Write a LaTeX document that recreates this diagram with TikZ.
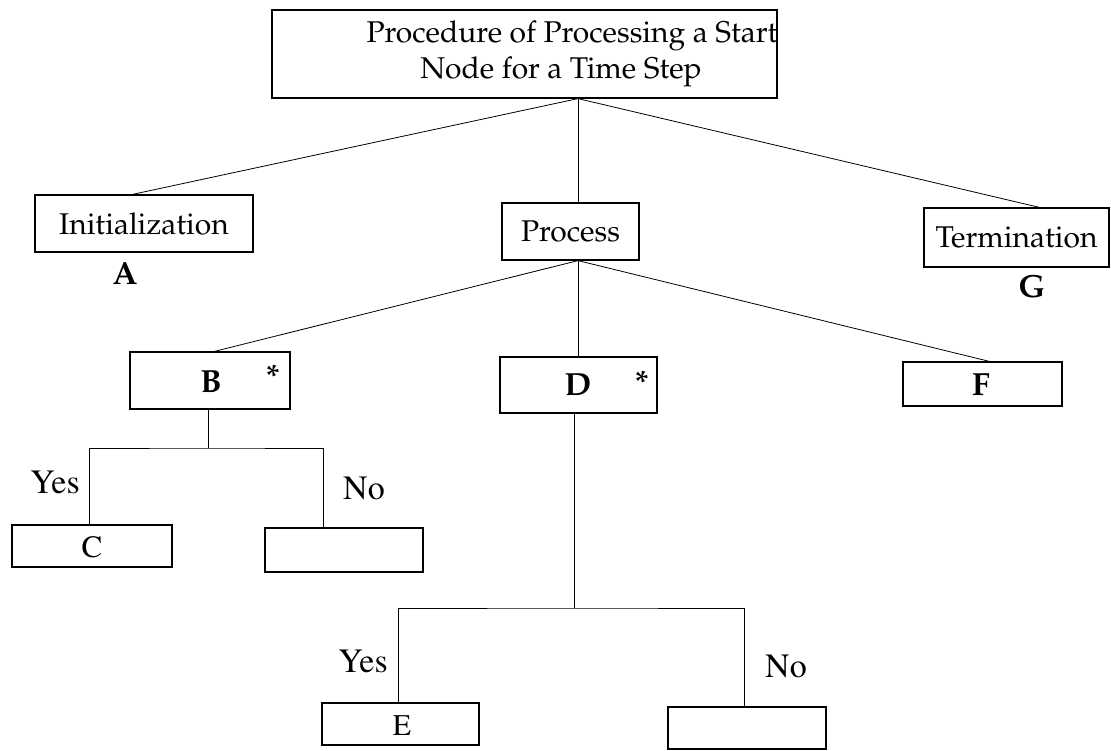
\documentclass[tikz,border=0pt]{standalone}
\usepackage[T1]{fontenc}
\renewcommand\rmdefault{ppl}
\newcommand\tmsf{\fontfamily{ptm}\selectfont}
\begin{document}
\begin{tikzpicture}[x=1pt,y=-1pt,
  box/.style={draw, line width=1.2pt, inner sep=0pt, font=\fontsize{30}{37}\selectfont},
  conn/.style={line width=0.8pt},
  lbl/.style={inner sep=0pt, font=\fontsize{32}{34}\selectfont\bfseries},
  yn/.style={inner sep=0pt, font=\fontsize{34}{36}\tmsf},
  txt/.style={inner sep=0pt, font=\fontsize{30}{37}\selectfont}]
\useasboundingbox (0,0) rectangle (1111,750);
% boxes
\node[box, minimum width=505pt, minimum height=88pt] (root) at (524.5,54) {};
\node[txt] (roottext1) at (572,36) {Procedure of Processing a Start};
\node[txt] (roottext2) at (561,72) {Node for a Time Step};
\node[box, minimum width=218pt, minimum height=57pt] (init) at (144,223.5) {Initialization};
\node[box, minimum width=137pt, minimum height=57pt] (proc) at (570.5,231.5) {Process};
\node[box, minimum width=185pt, minimum height=59pt] (term) at (1016.5,237.5) {Termination};
\node[lbl] (la) at (125,273) {A};
\node[lbl] (lg) at (1032,286) {G};
\node[box, minimum width=160pt, minimum height=57pt] (b) at (210,380.5) {};
\node[lbl] (lb) at (211,382) {B};
\node[lbl] (sb) at (273,376) {*};
\node[box, minimum width=157pt, minimum height=56pt] (d) at (578.5,385) {};
\node[lbl] (ld) at (578,385) {D};
\node[lbl] (sd) at (642,382) {*};
\node[box, minimum width=159pt, minimum height=44pt] (f) at (982.5,384) {};
\node[lbl] (lf) at (981,385) {F};
\node[box, minimum width=160pt, minimum height=42pt] (c) at (92,546) {};
\node[inner sep=0pt, font=\fontsize{31}{32}\tmsf] (lc) at (92,547) {C};
\node[box, minimum width=158pt, minimum height=44pt] (n1) at (344,550) {};
\node[box, minimum width=157pt, minimum height=42pt] (e) at (400.5,724) {};
\node[inner sep=0pt, font=\fontsize{30}{32}\tmsf] (le) at (402,726) {E};
\node[box, minimum width=158pt, minimum height=42pt] (n2) at (747,728) {};
% yes/no labels
\node[yn] (y1) at (55,483) {Yes};
\node[yn] (no1) at (364,489) {No};
\node[yn] (y2) at (363,662) {Yes};
\node[yn] (no2) at (786,667) {No};
% junctions
\coordinate (rj) at ([xshift=53.5pt]root.south);
\coordinate (pj) at ([xshift=7.5pt]proc.south);
\coordinate (bj) at (208,448);
\coordinate (dj) at (574,608);
% connectors
\draw[conn] (rj) -- ([xshift=98pt]init.north west);
\draw[conn] (rj) -- ([xshift=7.5pt]proc.north);
\draw[conn] (rj) -- ([xshift=116pt]term.north west);
\draw[conn] (pj) -- ([xshift=85pt]b.north west);
\draw[conn] (pj) -- (d.north -| pj);
\draw[conn] (pj) -- ([xshift=87pt]f.north west);
\draw[conn] (b.south -| bj) -- (bj);
\draw[conn] ([xshift=78pt]c.north west) |- (bj) -| ([xshift=59pt]n1.north west);
\draw[conn] (d.south -| dj) -- (dj);
\draw[conn] ([xshift=77pt]e.north west) |- (dj) -| ([xshift=77pt]n2.north west);
\end{tikzpicture}
\end{document}
